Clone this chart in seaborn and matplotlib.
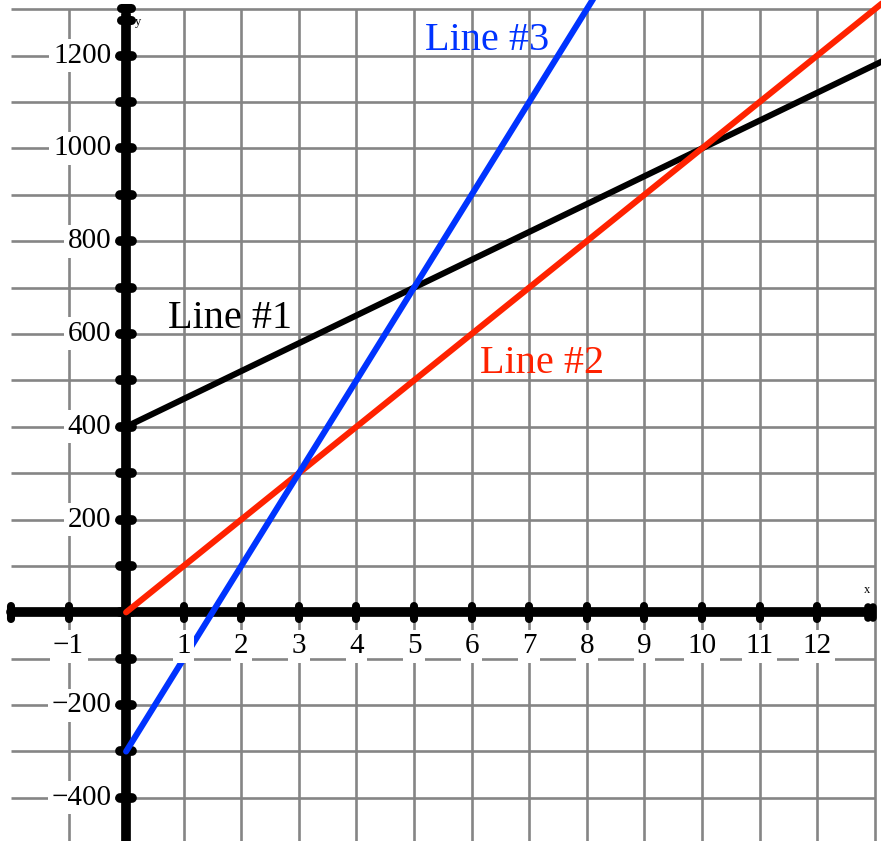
import numpy as np
import pandas as pd
import matplotlib
matplotlib.use('Agg')
import matplotlib.pyplot as plt
import seaborn as sns

# values
line1_x = [0, 5, 10, 13.3]
line1_y = [400, 700, 1000, 1198]
line2_x = [0, 3, 10, 13.3]
line2_y = [0, 300, 1000, 1330]
line3_x = [0, 1.5, 3, 5, 8.3]
line3_y = [-300, 0, 300, 700, 1360]

x_ticks = [-1, 1, 2, 3, 4, 5, 6, 7, 8, 9, 10, 11, 12]
y_ticks = [-400, -200, 200, 400, 600, 800, 1000, 1200]
x_blobs = list(range(-2, 13))
y_blobs = list(range(-400, 1300, 100))

labels = ['Line #1', 'Line #2', 'Line #3']
label_pos = [(0.73, 613), (6.15, 516), (5.19, 1212)]
colors = ['#000000', '#ff2200', '#0033ff']

df = pd.concat([
    pd.DataFrame({'x': line1_x, 'y': line1_y, 'line': labels[0]}),
    pd.DataFrame({'x': line2_x, 'y': line2_y, 'line': labels[1]}),
    pd.DataFrame({'x': line3_x, 'y': line3_y, 'line': labels[2]}),
])

sns.set_style('white')
plt.rcParams['font.family'] = ['Liberation Serif', 'DejaVu Serif']
plt.rcParams['text.color'] = 'black'

fig = plt.figure(figsize=(8.81, 8.41), dpi=100)
ax = fig.add_axes([0, 0, 1, 1])
ax.set_xlim(-2.19, 13.11)
ax.set_ylim(-493, 1320)
ax.axis('off')

# grid
ax.vlines(range(-1, 14), -500, 1300, color='#858585', lw=1.9, zorder=1)
ax.hlines(range(-500, 1301, 100), -2, 13, color='#858585', lw=1.9, zorder=1)

# axes
ax.plot([-2.0, 12.9], [0, 0], color='black', lw=7, solid_capstyle='round', zorder=2)
ax.plot([0, 0], [-500, 1290], color='black', lw=7, solid_capstyle='round', zorder=2)
ax.vlines(x_blobs, -14, 14, color='black', lw=5.8, capstyle='round', zorder=2)
ax.hlines(y_blobs, -0.1, 0.1, color='black', lw=7, capstyle='round', zorder=2)
ax.vlines([12.88, 12.97], -12, 12, color='black', lw=5.5, capstyle='round', zorder=2)
ax.hlines([1276, 1302], -0.09, 0.09, color='black', lw=6.5, capstyle='round', zorder=2)
ax.text(12.86, 35, 'x', fontsize=9, color='black', ha='center', va='bottom', zorder=4)
ax.text(0.16, 1273, 'y', fontsize=9, color='black', ha='left', va='center', zorder=4)

# lines
sns.lineplot(data=df, x='x', y='y', hue='line', palette=colors, sort=False,
             lw=4.4, legend=False, ax=ax, zorder=3)

for (lx, ly), lab, c in zip(label_pos, labels, colors):
    ax.text(lx, ly, lab, fontsize=29, color=c, ha='left', va='baseline', zorder=4)

box = dict(boxstyle='square,pad=0.12', fc='white', ec='none')
for t in x_ticks:
    s = str(t).replace('-', '\u2212')
    ax.annotate(s, xy=(t, 0), xytext=(0, -34), textcoords='offset pixels',
                fontsize=21, color='black', ha='center', va='center', bbox=box, zorder=4)
for t in y_ticks:
    s = str(t).replace('-', '\u2212')
    ax.annotate(s, xy=(0, t), xytext=(-15, 0), textcoords='offset pixels',
                fontsize=21, color='black', ha='right', va='center', bbox=box, zorder=4)

fig.savefig('out.png', dpi=100)
